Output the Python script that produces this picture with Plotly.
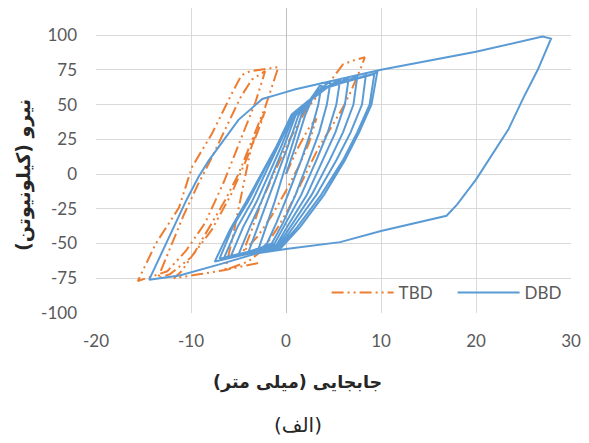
import plotly.graph_objects as go

# ---------------- data ----------------
x_ticks = [-20, -10, 0, 10, 20, 30]
y_ticks = [-100, -75, -50, -25, 0, 25, 50, 75, 100]

dbd_x = [0, 1.0, 2.0, 3.0, 3.8,
         3.4, 2.6, 1.6, 0.2, -1.0, -2.0, -3.0,
         -2.2, -1.2, -0.3, 0.6, 1.6, 3.0, 4.7,
         4.3, 3.5, 2.4, 1.0, -0.3, -1.5, -4.0,
         -3.0, -2.0, -0.9, 0.2, 1.3, 3.0, 5.7,
         5.3, 4.4, 3.2, 1.6, 0.0, -1.2, -5.0,
         -3.8, -2.6, -1.4, -0.2, 1.0, 3.3, 6.6,
         6.2, 5.2, 3.9, 2.2, 0.3, -1.0, -5.8,
         -4.5, -3.1, -1.8, -0.5, 0.8, 3.5, 7.5,
         7.1, 6.0, 4.6, 2.7, 0.6, -0.8, -6.5,
         -5.1, -3.6, -2.2, -0.8, 0.7, 3.8, 8.4,
         8.0, 6.8, 5.3, 3.2, 0.9, -0.7, -7.0,
         -5.6, -4.0, -2.5, -1.0, 0.6, 4.0, 9.3,
         8.8, 7.5, 6.0, 3.7, 1.2, -0.6, -7.5,
         -5.9, -4.2, -2.6, -1.0, 0.8, 4.5, 9.6,
         9.0, 7.7, 6.2, 4.0, 1.5, -0.5, -3.5, -7.0, -11.2, -14.4,
         -12.5, -10.5, -9.2, -8.1, -5.0, -2.5, -1.0, 1.0, 10.0, 20.0, 27.0, 27.9,
         26.5, 25.0, 23.4, 21.5, 20.0, 18.0, 16.9, 10.0, 5.7, 0.0, -3.0]
dbd_y = [0, 20, 42, 58, 66,
         50, 30, 10, -15, -35, -50, -56,
         -40, -20, 0, 20, 42, 58, 67,
         50, 30, 10, -15, -35, -50, -57,
         -38, -20, 0, 20, 42, 58, 68,
         50, 30, 10, -15, -35, -50, -58,
         -38, -20, 0, 20, 42, 59, 69,
         50, 30, 10, -15, -36, -51, -59,
         -38, -20, 0, 20, 42, 60, 70,
         50, 30, 10, -15, -37, -51, -60,
         -38, -20, 0, 20, 42, 61, 71,
         50, 30, 10, -15, -37, -52, -61,
         -38, -20, 0, 20, 43, 62, 72,
         50, 30, 10, -15, -38, -52, -63,
         -40, -20, 0, 20, 44, 63, 73,
         50, 30, 10, -15, -38, -53, -58, -65, -73, -76,
         -48, -19, -2, 10, 39, 54, 57, 61, 75, 88, 99, 97.5,
         75, 55, 32, 12, -4, -22, -30, -41, -49, -54, -57]

tbd_x = [0, 1.2, 2.3, 3.2,
         2.4, 1.3, 0.0, -1.5, -3.0, -4.5,
         -3.6, -2.6, -1.3, 0.4, 2.0, 3.5, 4.7, 6.0, 7.2, 8.3,
         7.8, 6.8, 6.0, 4.8, 3.5, 2.3, 1.2, 0.2, -1.0, -2.5, -4.0, -6.4,
         -5.6, -4.9, -4.3, -3.7, -3.0, -2.2,
         -3.0, -4.2, -5.8, -7.8, -10.0, -12.2, -13.5,
         -12.3, -10.8, -9.3, -7.8, -6.2, -4.8, -3.6, -2.2,
         -3.2, -4.8, -6.5, -8.5, -10.5, -12.5, -15.6,
         -13.7, -11.25, -9.9, -7.8, -5.7, -4.7, -3.8, -2.2, -0.8,
         -2.2, -3.6, -5.0, -6.5, -8.0, -9.5, -11.0, -11.8,
         -9.0, -6.4, -2.9]
tbd_y = [0, 18, 32, 40,
         22, 5, -12, -30, -45, -56,
         -40, -20, 0, 25, 45, 58, 67, 79, 82, 84,
         75, 59, 48, 34, 20, 3, -12, -26, -40, -55, -63, -69,
         -45, -22, 0, 18, 33, 45,
         30, 10, -15, -40, -60, -72, -75,
         -55, -30, -8, 12, 35, 55, 68, 74,
         52, 25, -5, -35, -55, -70, -77,
         -50, -24, 5, 29, 58, 71, 74, 75.5, 77,
         48, 24, 0, -20, -38, -55, -70, -75,
         -72, -69, -64]

series_names = ["TBD", "DBD"]
x_title = "جابجایی (میلی متر)"
y_title = "نیرو (کیلونیوتن)"
caption = "(الف)"

# ---------------- figure ----------------
fig = go.Figure()
fig.add_trace(go.Scatter(
    x=tbd_x, y=tbd_y, mode="lines", name=series_names[0],
    line=dict(color="#ED7D31", width=2, dash="12px,4px,2px,4px,2px,4px"),
))
fig.add_trace(go.Scatter(
    x=dbd_x, y=dbd_y, mode="lines", name=series_names[1],
    line=dict(color="#5B9BD5", width=2),
))

tick_font = dict(family="Lato, Open Sans, sans-serif", size=17, color="#595959")
fig.update_xaxes(
    range=[-20, 30], tickvals=x_ticks, ticktext=[str(v) for v in x_ticks],
    showgrid=True, gridcolor="#D9D9D9", gridwidth=1,
    zeroline=True, zerolinecolor="#BFBFBF", zerolinewidth=1,
    showline=False, ticks="", tickfont=tick_font, ticklabelstandoff=16,
)
fig.update_yaxes(
    range=[-100, 119.5], tickvals=y_ticks, ticktext=[str(v) for v in y_ticks],
    showgrid=True, gridcolor="#D9D9D9", gridwidth=1,
    zeroline=True, zerolinecolor="#D9D9D9", zerolinewidth=1,
    showline=False, ticks="", tickfont=tick_font, ticklabelstandoff=18,
)

x_title_font = dict(family="DejaVu Sans, sans-serif", size=17.5, color="#262626", weight="bold")
y_title_font = dict(family="DejaVu Sans, sans-serif", size=19, color="#262626", weight="bold")
fig.update_layout(
    width=589, height=443,
    margin=dict(l=96, r=13, t=8, b=130),
    paper_bgcolor="white", plot_bgcolor="white",
    showlegend=True,
    legend=dict(
        orientation="h", x=1.016, xanchor="right", y=0.066, yanchor="middle",
        bgcolor="rgba(0,0,0,0)", itemwidth=62,
        entrywidth=49, entrywidthmode="pixels",
        font=dict(family="Lato, Open Sans, sans-serif", size=17, color="#595959"),
        traceorder="normal",
    ),
    annotations=[
        dict(text=y_title, xref="paper", yref="paper", x=-0.154, y=0.452,
             textangle=-90, showarrow=False, font=y_title_font,
             xanchor="center", yanchor="middle"),
        dict(text=x_title, xref="paper", yref="paper", x=0.425, y=-0.2295,
             showarrow=False, font=x_title_font, xanchor="center", yanchor="middle"),
        dict(text=caption, xref="paper", yref="paper", x=0.425, y=-0.367,
             showarrow=False, font=dict(family="DejaVu Sans, sans-serif", size=20, color="#262626"),
             xanchor="center", yanchor="middle"),
    ],
)

fig.write_html("out.html", config={"displayModeBar": False},
               post_script="document.body.style.margin='0';")
